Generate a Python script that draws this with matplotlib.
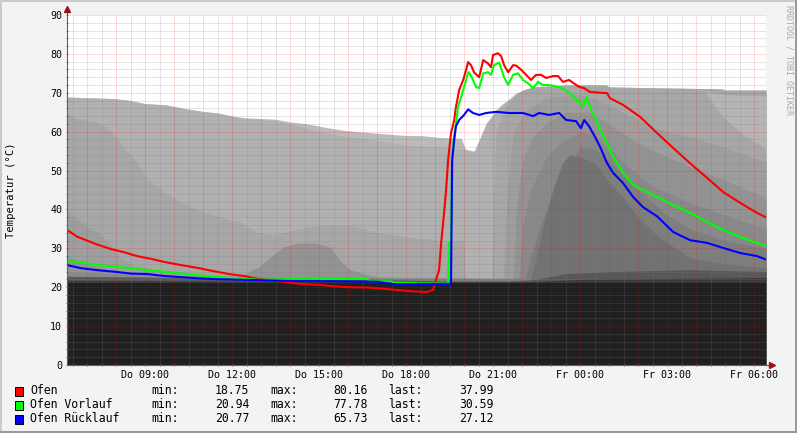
import matplotlib
matplotlib.use('Agg')
import matplotlib.pyplot as plt
from matplotlib.patches import Rectangle
from matplotlib.ticker import MultipleLocator

# hours since Do 00:00 (Fr 00:00 = 24)
ofen_t = [6.31, 6.50, 6.66, 7.00, 7.34, 7.83, 8.28, 8.72, 9.21, 9.66, 10.24, 10.79, 11.38, 11.97,
          12.41, 12.72, 13.03, 13.48, 13.93, 14.45, 15.03, 15.55, 16.07, 16.76, 17.55, 18.14, 18.72,
          18.93, 19.03, 19.14, 19.21, 19.31, 19.38, 19.45, 19.55, 19.66, 19.72, 19.83, 19.97, 20.07,
          20.14, 20.24, 20.34, 20.52, 20.66, 20.83, 20.93, 21.00, 21.17, 21.28, 21.38, 21.52, 21.69,
          21.79, 21.97, 22.14, 22.31, 22.48, 22.66, 22.83, 23.07, 23.24, 23.41, 23.62, 23.79, 23.97,
          24.14, 24.34, 24.93, 25.03, 25.48, 26.07, 26.66, 27.21, 27.79, 28.38, 28.93, 29.52, 30.10,
          30.41]
ofen_v = [34.7, 33.8, 33.0, 32.0, 31.0, 29.8, 29.0, 28.0, 27.3, 26.5, 25.7, 25.0, 24.1, 23.3,
          22.9, 22.4, 22.0, 21.7, 21.2, 20.8, 20.6, 20.2, 20.0, 19.9, 19.4, 19.0, 18.75,
          19.3, 21.9, 24.4, 31.4, 39.0, 45.0, 52.7, 59.6, 63.0, 66.3, 70.7, 73.3, 75.9,
          77.9, 77.1, 75.3, 74.0, 78.4, 77.5, 76.6, 79.7, 80.16, 79.4, 77.1, 75.3, 77.1,
          77.0, 75.9, 74.6, 73.3, 74.6, 74.6, 73.8, 74.3, 74.3, 72.8, 73.3, 72.4, 71.5,
          71.2, 70.2, 69.9, 68.6, 66.9, 63.8, 59.6, 55.8, 51.9, 48.1, 44.5, 41.7, 39.1,
          37.99]

vorlauf_t = [6.31, 6.79, 7.34, 7.93, 8.52, 9.07, 9.66, 10.24, 10.79, 11.38, 11.97, 12.41, 12.97,
             13.5, 14.0, 15.0, 16.0, 16.66, 16.76, 17.5, 17.55, 18.5, 19.45, 19.48, 19.55, 19.59,
             19.66, 19.72, 19.79, 19.90, 20.00, 20.14, 20.17, 20.31, 20.41, 20.52, 20.66, 20.83,
             20.93, 21.03, 21.21, 21.38, 21.52, 21.69, 21.86, 22.03, 22.21, 22.38, 22.55, 22.72,
             22.93, 23.28, 23.59, 23.79, 23.97, 24.10, 24.21, 24.31, 24.45, 24.52, 24.69, 24.93,
             25.14, 25.48, 25.83, 26.17, 26.66, 27.21, 27.79, 28.38, 28.93, 29.52, 30.10, 30.41]
vorlauf_v = [26.7, 26.5, 25.7, 25.3, 24.9, 24.4, 24.0, 23.5, 23.1, 22.7, 22.4, 22.2, 21.9,
             22.0, 22.1, 22.1, 22.1, 22.1, 21.5, 21.5, 21.2, 21.0, 20.94, 31.4, 31.4, 53.5,
             58.9, 62.2, 66.3, 68.9, 71.5, 75.1, 75.3, 73.3, 71.5, 71.2, 75.0, 75.3,
             74.6, 77.1, 77.78, 74.0, 72.0, 74.6, 75.0, 73.3, 72.4, 71.2, 72.8, 72.0,
             72.0, 71.5, 70.2, 68.9, 67.6, 66.3, 68.9, 67.0, 64.3, 63.8, 60.4, 57.1,
             53.5, 49.4, 46.3, 45.0, 43.2, 41.1, 39.1, 36.8, 34.7, 32.9, 31.4, 30.59]

ruecklauf_t = [6.31, 6.79, 7.34, 7.93, 8.52, 9.07, 9.66, 10.24, 10.79, 11.38, 12.41, 13.0, 14.0,
               15.0, 16.0, 17.0, 17.55, 19.55, 19.59, 19.66, 19.72, 19.83, 20.00, 20.14, 20.31,
               20.52, 20.76, 21.10, 21.55, 22.03, 22.38, 22.59, 22.93, 23.28, 23.52, 23.86, 24.03,
               24.14, 24.31, 24.52, 24.69, 24.93, 25.14, 25.48, 25.83, 26.17, 26.66, 27.21, 27.79,
               28.38, 28.93, 29.52, 30.10, 30.41]
ruecklauf_v = [25.7, 24.9, 24.4, 24.0, 23.5, 23.4, 22.9, 22.6, 22.3, 22.1, 21.9, 21.8, 21.6,
               21.6, 21.5, 21.4, 20.8, 20.77, 52.7, 57.9, 61.4, 63.0, 64.3, 65.73, 64.8,
               64.3, 64.8, 65.1, 64.8, 64.8, 64.0, 64.8, 64.3, 64.8, 63.0, 62.7, 60.9,
               63.0, 61.4, 58.6, 56.1, 51.9, 49.4, 46.8, 43.2, 40.6, 38.2, 34.2, 32.1,
               31.4, 30.1, 28.8, 28.0, 27.12]

# grey background areas (older curves), outermost first
shade1_t = [6.31, 7.9, 8.5, 9.0, 9.7, 10.4, 11.0, 11.5, 12.0, 12.4, 13.5, 14.0, 14.6, 15.3, 15.9,
            17.0, 18.0, 18.5, 19.2, 19.9, 20.05, 20.35, 20.52, 20.66, 20.76, 20.93, 21.1, 21.28,
            21.5, 21.79, 22.03, 22.38, 23.5, 24.9, 25.0, 26.4, 28.9, 29.0, 30.41]
shade1_v = [68.9, 68.5, 68.0, 67.2, 66.9, 65.9, 65.2, 64.8, 64.0, 63.6, 63.2, 62.5, 62.0, 61.0, 60.3,
            59.6, 59.0, 59.0, 58.5, 58.3, 55.5, 55.0, 57.9, 60.4, 62.2, 63.8, 65.6, 66.9,
            68.1, 69.9, 70.7, 71.5, 72.0, 72.0, 71.5, 71.3, 71.0, 70.7, 70.7]

shade2_t = [6.31, 7.9, 8.5, 9.0, 9.7, 10.4, 11.0, 11.5, 12.0, 12.4, 13.3, 14.0, 14.5, 15.5, 16.9,
            18.0, 18.5, 19.5, 20.05, 20.35, 20.52, 20.66, 20.76, 20.93, 21.1, 21.28, 21.5, 21.79,
            22.03, 30.41]
shade2_v = [68.9, 68.5, 68.0, 67.2, 66.9, 65.9, 65.2, 64.8, 64.0, 63.4, 63.0, 62.0, 61.0, 59.3, 57.9,
            56.6, 56.3, 56.0, 55.3, 54.8, 57.5, 60.0, 61.8, 63.4, 65.2, 66.5, 67.8, 69.6,
            70.5, 70.5]

shade3_t = [6.31, 6.5, 6.6, 7.3, 7.6, 7.9, 8.28, 8.72, 9.07, 9.66, 10.24, 10.79, 11.38, 11.97,
            12.28, 12.86, 13.4, 14.0, 14.6, 15.1, 16.1, 16.5, 16.9, 18.0, 18.5, 19.1, 20.0, 20.05,
            20.95, 21.03, 21.1, 21.4, 21.8, 22.03, 22.38, 23.5, 24.9, 25.0, 26.4, 28.9, 29.0, 30.41]
shade3_v = [64.3, 64.3, 63.5, 62.5, 61.5, 59.5, 55.8, 52.2, 48.0, 44.5, 42.0, 39.9, 38.5, 37.3,
            36.8, 34.2, 33.4, 34.5, 35.5, 36.0, 36.0, 35.0, 34.2, 33.0, 32.6, 32.1, 32.0, 21.0,
            21.0, 45.0, 60.0, 66.0, 69.5, 70.7, 71.5, 72.0, 72.0, 71.5, 71.3, 71.0, 70.7, 70.7]

patch_t = [28.3, 28.9, 29.5, 30.0, 30.41]
patch_hi = [70.3, 69.6, 69.4, 69.3, 69.2]
patch_lo = [70.3, 64.0, 60.0, 57.5, 55.5]

shade4_t = [6.31, 6.55, 6.9, 7.34, 7.7, 7.93, 8.17, 8.5, 9.0, 10.0, 11.0, 12.0, 13.0, 20.0, 21.35,
            21.5, 21.7, 22.2, 23.0, 24.0, 24.5, 25.5, 26.5, 27.8, 29.0, 30.41]
shade4_v = [39.5, 38.1, 36.0, 34.3, 31.9, 29.8, 27.5, 26.0, 25.0, 24.0, 23.5, 23.0, 23.0, 22.5, 22.0,
            45.0, 60.0, 66.0, 69.0, 69.5, 68.5, 65.0, 61.0, 58.6, 56.0, 52.0]

shade5_t = [6.31, 6.6, 7.0, 7.5, 8.0, 9.0, 10.0, 12.0, 12.4, 12.72, 12.97, 13.4, 13.8, 14.3, 14.9,
            15.4, 15.7, 16.1, 16.7, 17.4, 18.0, 21.7, 21.8, 22.0, 22.3, 22.8, 23.5, 24.3, 25.0,
            26.0, 27.0, 27.8, 29.0, 30.41]
shade5_v = [28.0, 27.0, 26.0, 25.0, 24.0, 23.5, 23.0, 22.5, 23.0, 24.6, 25.4, 28.3, 30.5, 31.4, 31.4,
            30.2, 27.0, 24.4, 23.1, 22.3, 22.0, 22.0, 40.0, 52.0, 58.0, 62.0, 65.0, 65.0, 62.0,
            57.0, 53.5, 51.0, 47.5, 43.0]

shade6_t = [6.31, 8.0, 10.0, 14.0, 19.0, 21.9, 22.0, 22.3, 22.8, 23.3, 24.0, 24.5, 25.0, 25.5,
            26.5, 27.8, 29.0, 30.41]
shade6_v = [24.0, 23.5, 23.0, 22.5, 22.0, 22.0, 35.0, 45.0, 53.0, 57.0, 60.0, 59.0, 56.0, 52.0,
            46.0, 41.7, 38.5, 35.0]

shade7_t = [6.31, 10.0, 22.1, 22.3, 22.6, 23.0, 23.5, 24.0, 24.5, 25.0, 26.0, 27.0, 27.8, 29.0, 30.41]
shade7_v = [22.8, 22.5, 22.3, 28.0, 35.0, 43.0, 50.0, 56.0, 55.5, 52.5, 45.0, 38.5, 35.0, 32.0, 30.0]

shade8_t = [22.3, 22.5, 22.8, 23.1, 23.4, 23.65, 24.0, 24.5, 25.0, 25.5, 26.0, 26.7, 27.8, 29.0, 30.41]
shade8_v = [22.0, 28.0, 38.0, 46.0, 52.0, 54.0, 53.5, 52.0, 47.0, 43.0, 38.0, 33.0, 27.5, 26.0, 25.0]

low1_t = [6.31, 9.0, 12.0, 14.0, 16.0, 18.0, 19.5, 21.5, 22.5, 23.5, 25.0, 27.8, 30.41]
low1_v = [22.8, 22.6, 22.2, 22.3, 22.2, 21.8, 21.6, 21.6, 22.0, 23.5, 24.0, 24.5, 24.0]

low2_t = [6.31, 12.0, 18.0, 22.0, 24.0, 30.41]
low2_v = [21.8, 21.6, 21.4, 21.4, 22.0, 22.5]

base_t = [6.31, 30.41]
base_v = [21.1, 21.1]

tick_hours = [9, 12, 15, 18, 21, 24, 27, 30]
tick_labels = ['Do 09:00', 'Do 12:00', 'Do 15:00', 'Do 18:00',
               'Do 21:00', 'Fr 00:00', 'Fr 03:00', 'Fr 06:00']

legend_names = ['Ofen', 'Ofen Vorlauf', 'Ofen Rücklauf']
legend_min = [18.75, 20.94, 20.77]
legend_max = [80.16, 77.78, 65.73]
legend_last = [37.99, 30.59, 27.12]

W, H = 797, 433
mono = 'DejaVu Sans Mono'

fig = plt.figure(figsize=(W / 100, H / 100), dpi=100, facecolor='#F3F3F3')
ax = fig.add_axes([67 / W, 1 - 365 / H, 699 / W, 350 / H])
ax.set_facecolor('white')

shades = [
    (shade1_t, shade1_v, '#BBBBBB'),
    (shade2_t, shade2_v, '#B1B1B1'),
    (shade3_t, shade3_v, '#A7A7A7'),
    (shade4_t, shade4_v, '#9E9E9E'),
    (shade5_t, shade5_v, '#939393'),
    (shade6_t, shade6_v, '#898989'),
    (shade7_t, shade7_v, '#7E7E7E'),
    (shade8_t, shade8_v, '#727272'),
    (low1_t, low1_v, '#585858'),
    (low2_t, low2_v, '#3C3C3C'),
    (base_t, base_v, '#202020'),
]
for t, v, c in shades:
    ax.fill_between(t, 0, v, color=c, linewidth=0, zorder=1)
    if c == '#A7A7A7':
        ax.fill_between(patch_t, patch_lo, patch_hi, color='#B5B5B5', linewidth=0, zorder=1)

ax.plot(ofen_t, ofen_v, color='#FF0000', linewidth=1.5, zorder=4)
ax.plot(vorlauf_t, vorlauf_v, color='#00FF00', linewidth=1.5, zorder=4)
ax.plot(ruecklauf_t, ruecklauf_v, color='#0000FF', linewidth=1.5, zorder=4)

ax.set_xlim(6.31, 30.41)
ax.set_ylim(0, 90)

ax.xaxis.set_major_locator(MultipleLocator(1))
ax.xaxis.set_minor_locator(MultipleLocator(0.5))
ax.yaxis.set_major_locator(MultipleLocator(10))
ax.yaxis.set_minor_locator(MultipleLocator(2))
ax.set_xticklabels([tick_labels[tick_hours.index(int(round(h)))] if int(round(h)) in tick_hours else ''
                    for h in ax.get_xticks()])

ax.set_axisbelow(False)
ax.grid(which='minor', color='#7A7A7A', alpha=0.4, linestyle=(0, (1, 1)), linewidth=0.72)
ax.grid(which='major', color='#FF0000', alpha=0.3, linestyle=(0, (1, 1)), linewidth=0.72)

ax.tick_params(which='both', length=2, width=0.7, color='#707070', labelsize=7.2, pad=2.5,
               direction='inout')
for lab in ax.get_xticklabels() + ax.get_yticklabels():
    lab.set_fontfamily(mono)

for side in ['top', 'right']:
    ax.spines[side].set_visible(False)
for side in ['left', 'bottom']:
    ax.spines[side].set_color('#606060')
    ax.spines[side].set_linewidth(0.8)
    ax.spines[side].set_zorder(5)

# axis arrows
ax.plot([6.31, 6.31], [90, 91.5], color='#606060', linewidth=0.8, clip_on=False)
ax.plot([30.41, 30.55], [0, 0], color='#606060', linewidth=0.8, clip_on=False)
ax.plot([6.31], [91.5], marker='^', color='#A01010', markersize=4, clip_on=False)
ax.plot([30.6], [0], marker='>', color='#A01010', markersize=4, clip_on=False)

fig.text(11 / W, 1 - 190 / H, 'Temperatur (°C)', rotation=90, ha='center', va='center',
         fontsize=7.6, family=mono)
fig.text(789 / W, 1 - 5 / H, 'RRDTOOL / TOBI OETIKER', rotation=270, ha='center', va='top',
         fontsize=6, family=mono, color='#A8A8A8')

colors = ['#FF0000', '#00FF00', '#0000FF']
rows_y = [391, 405, 419]
for name, lo, hi, last, c, y in zip(legend_names, legend_min, legend_max, legend_last, colors, rows_y):
    fig.add_artist(Rectangle((15 / W, 1 - (y + 4.5) / H), 8 / W, 9 / H, transform=fig.transFigure,
                             facecolor=c, edgecolor='black', linewidth=0.7))
    ty = 1 - y / H
    fig.text(30 / W, ty, name, ha='left', va='center', fontsize=8.3, family=mono)
    fig.text(151 / W, ty, 'min:', ha='left', va='center', fontsize=8.3, family=mono)
    fig.text(249 / W, ty, f'{lo:.2f}', ha='right', va='center', fontsize=8.3, family=mono)
    fig.text(270 / W, ty, 'max:', ha='left', va='center', fontsize=8.3, family=mono)
    fig.text(368 / W, ty, f'{hi:.2f}', ha='right', va='center', fontsize=8.3, family=mono)
    fig.text(388 / W, ty, 'last:', ha='left', va='center', fontsize=8.3, family=mono)
    fig.text(494 / W, ty, f'{last:.2f}', ha='right', va='center', fontsize=8.3, family=mono)

# frame shading
fig.add_artist(Rectangle((0, 1 - 2 / H), 1, 2 / H, transform=fig.transFigure, color='#CBCBCB', linewidth=0))
fig.add_artist(Rectangle((0, 0), 2 / W, 1, transform=fig.transFigure, color='#CBCBCB', linewidth=0))
fig.add_artist(Rectangle((0, 0), 1, 2 / H, transform=fig.transFigure, color='#999999', linewidth=0))
fig.add_artist(Rectangle((1 - 2 / W, 0), 2 / W, 1, transform=fig.transFigure, color='#999999', linewidth=0))

fig.savefig('out.png', dpi=100, facecolor=fig.get_facecolor())
